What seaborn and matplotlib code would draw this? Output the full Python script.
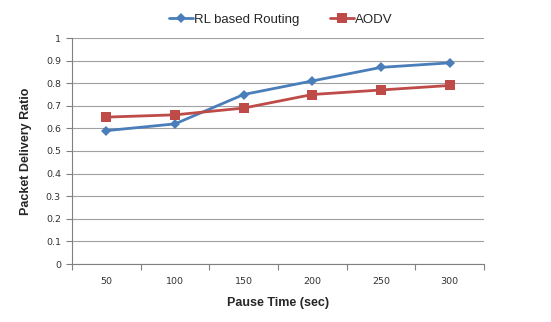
import matplotlib
matplotlib.use("Agg")
import matplotlib.pyplot as plt
import seaborn as sns
import pandas as pd
import numpy as np

pause_times = ["50", "100", "150", "200", "250", "300"]
rl_values = [0.59, 0.62, 0.75, 0.81, 0.87, 0.89]
aodv_values = [0.65, 0.66, 0.69, 0.75, 0.77, 0.79]
y_ticks = [0, 0.1, 0.2, 0.3, 0.4, 0.5, 0.6, 0.7, 0.8, 0.9, 1]
y_tick_labels = ["0", "0.1", "0.2", "0.3", "0.4", "0.5", "0.6", "0.7", "0.8", "0.9", "1"]

sns.set_theme(style="white")
plt.rcParams['font.family'] = ['DejaVu Sans']

df = pd.DataFrame({
    "pos": list(range(len(pause_times))) * 2,
    "value": rl_values + aodv_values,
    "series": ["RL based Routing"] * 6 + ["AODV"] * 6,
})

fig = plt.figure(figsize=(5.51, 3.22), dpi=100)
ax = fig.add_axes([72/551, 1 - 264/322, (484 - 72)/551, (264 - 38)/322])

palette = {"RL based Routing": "#4A7EBB", "AODV": "#BE4B48"}
markers = {"RL based Routing": "D", "AODV": "s"}
sizes_map = {"RL based Routing": 5, "AODV": 6.5}
for name in ["RL based Routing", "AODV"]:
    sub = df[df.series == name]
    sns.lineplot(data=sub, x="pos", y="value", ax=ax, color=palette[name],
                 marker=markers[name], markersize=sizes_map[name], markeredgewidth=0,
                 linewidth=2, label=name)

ax.set_xlim(-0.5, 5.5)
ax.set_ylim(0, 1)
ax.set_yticks(y_ticks)
ax.set_yticklabels(y_tick_labels, fontsize=6.8, color="#333333")
ax.yaxis.grid(True, color="#A0A0A0", linewidth=0.8)
ax.set_axisbelow(True)

ax.set_xticks(range(len(pause_times)))
ax.set_xticklabels(pause_times, fontsize=6.8, color="#333333")
ax.set_xticks(np.arange(-0.5, 6, 1), minor=True)
ax.tick_params(axis="x", which="major", length=0, pad=9)
ax.tick_params(axis="x", which="minor", length=4, direction="out", color="#808080", width=0.8, bottom=True)
ax.tick_params(axis="y", which="major", length=4, direction="out", color="#808080", width=0.8, left=True, pad=4)

for s in ["top", "right"]:
    ax.spines[s].set_visible(False)
for s in ["left", "bottom"]:
    ax.spines[s].set_color("#808080")
    ax.spines[s].set_linewidth(0.8)

ax.set_xlabel("Pause Time (sec)", fontsize=9, fontweight="bold", family="Liberation Sans", labelpad=8)
ax.set_ylabel("Packet Delivery Ratio", fontsize=9, fontweight="bold", family="Liberation Sans", labelpad=10)

leg = ax.legend(loc="center", bbox_to_anchor=(281/551, 1 - 20/322), bbox_transform=fig.transFigure,
                ncol=2, frameon=False, handlelength=1.8, handletextpad=0.1, columnspacing=2.3,
                prop={"family": "Liberation Sans", "size": 9.5})

fig.savefig("out.png", dpi=100)
